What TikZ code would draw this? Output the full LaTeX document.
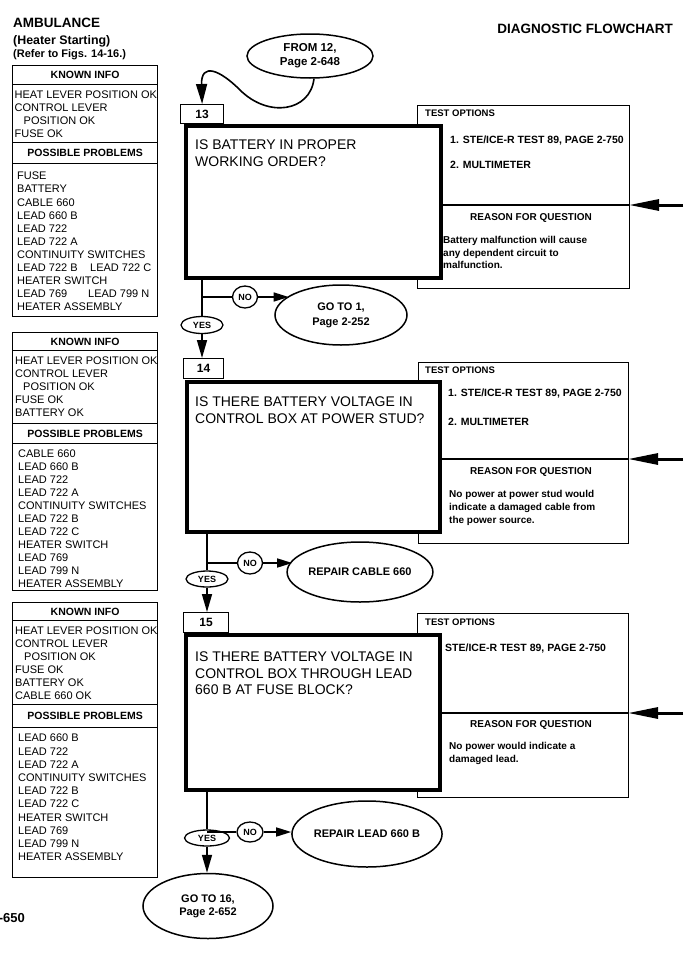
\documentclass[tikz,border=0pt]{standalone}
\usepackage{fontspec}
\setmainfont{Liberation Sans}
\usetikzlibrary{arrows.meta,shapes.geometric}
\newcommand\setfs[2]{\fontsize{#1pt}{#2pt}\selectfont}
\begin{document}
\begin{tikzpicture}[x=1pt,y=-1pt,
  lbox/.style={draw, line width=1.2pt, inner sep=0pt, anchor=north west},
  hdr/.style={draw, line width=1.2pt, inner sep=0pt, anchor=north west, minimum width=145pt, font=\bfseries\setfs{10.5}{12}},
  qbox/.style={draw, line width=4pt, fill=white, inner sep=0pt, anchor=north west},
  numbox/.style={draw, line width=1.2pt, fill=white, inner sep=0pt, anchor=north west, font=\bfseries\setfs{12}{14}},
  item/.style={inner sep=0pt, anchor=north west, align=left, font=\setfs{11}{13}},
  qtext/.style={inner sep=0pt, anchor=north west, align=left, font=\setfs{14}{17}},
  tohead/.style={inner sep=0pt, anchor=base west, font=\bfseries\setfs{9.5}{11}},
  toitem/.style={inner sep=0pt, anchor=base west, font=\bfseries\setfs{10.5}{12}},
  rhead/.style={inner sep=0pt, anchor=base, font=\bfseries\setfs{10}{12}},
  rtext/.style={inner sep=0pt, anchor=north west, align=left, font=\bfseries\setfs{10}{12.5}},
  oval/.style={ellipse, draw, line width=1.5pt, fill=white, inner sep=0pt, align=center, font=\bfseries\setfs{11}{14}},
  lbl/.style={ellipse, draw, line width=1.3pt, fill=white, inner sep=0pt, font=\bfseries\setfs{9}{10}},
  flow/.style={line width=1.6pt},
  downarrow/.style={flow, -{Triangle[length=18pt,width=10pt]}},
  noarrow/.style={flow, -{Triangle[length=15pt,width=9pt]}},
  bigarrow/.style={line width=3pt, -{Triangle[length=30pt,width=11pt]}},
  divider/.style={line width=2pt}
]
\useasboundingbox (0,0) rectangle (696,953);

% ---------- titles ----------
\node[inner sep=0pt, anchor=base west, font=\bfseries\setfs{13.5}{16}] (title) at (13,27.5) {AMBULANCE};
\node[inner sep=0pt, anchor=base west, font=\bfseries\setfs{12.4}{14}] (sub) at (13,44.5) {(Heater Starting)};
\node[inner sep=0pt, anchor=base west, font=\bfseries\setfs{11}{13}] (refer) at (13,57.5) {(Refer to Figs. 14-16.)};
\node[inner sep=0pt, anchor=base east, font=\bfseries\setfs{13.5}{16}] (diag) at (673,33) {DIAGNOSTIC FLOWCHART};
\node[inner sep=0pt, anchor=base east, font=\bfseries\setfs{13}{15}] (pg) at (25,922) {-650};

% ---------- left column, block 1 ----------
\node[lbox, minimum width=145pt, minimum height=77pt] (k1) at (12,65) {};
\node[hdr, minimum height=19pt] (kh1) at (12,65) {KNOWN INFO};
\node[item] (k1t) at (14.5,91) {HEAT LEVER POSITION OK\\CONTROL LEVER\\\hspace*{9pt}POSITION OK\\FUSE OK};
\node[lbox, minimum width=145pt, minimum height=174pt] (p1) at (12,142) {};
\node[hdr, minimum height=21pt] (ph1) at (12,142) {POSSIBLE PROBLEMS};
\node[item, font=\setfs{11}{13.1}] (p1t) at (17,172) {FUSE\\BATTERY\\CABLE 660\\LEAD 660 B\\LEAD 722\\LEAD 722 A\\CONTINUITY SWITCHES\\\makebox[73pt][l]{LEAD 722 B}LEAD 722 C\\HEATER SWITCH\\\makebox[71pt][l]{LEAD 769}LEAD 799 N\\HEATER ASSEMBLY};

% ---------- left column, block 2 ----------
\node[lbox, minimum width=145pt, minimum height=91pt] (k2) at (12,332) {};
\node[hdr, minimum height=18pt] (kh2) at (12,332) {KNOWN INFO};
\node[item] (k2t) at (15,357) {HEAT LEVER POSITION OK\\CONTROL LEVER\\\hspace*{8pt}POSITION OK\\FUSE OK\\BATTERY OK};
\node[lbox, minimum width=145pt, minimum height=167pt] (p2) at (12,423) {};
\node[hdr, minimum height=20pt] (ph2) at (12,423) {POSSIBLE PROBLEMS};
\node[item] (p2t) at (18,450) {CABLE 660\\LEAD 660 B\\LEAD 722\\LEAD 722 A\\CONTINUITY SWITCHES\\LEAD 722 B\\LEAD 722 C\\HEATER SWITCH\\LEAD 769\\LEAD 799 N\\HEATER ASSEMBLY};

% ---------- left column, block 3 ----------
\node[lbox, minimum width=145pt, minimum height=102pt] (k3) at (12,602) {};
\node[hdr, minimum height=18pt] (kh3) at (12,602) {KNOWN INFO};
\node[item] (k3t) at (15,627) {HEAT LEVER POSITION OK\\CONTROL LEVER\\\hspace*{9pt}POSITION OK\\FUSE OK\\BATTERY OK\\CABLE 660 OK};
\node[lbox, minimum width=145pt, minimum height=173pt] (p3) at (12,704) {};
\node[hdr, minimum height=23pt] (ph3) at (12,704) {POSSIBLE PROBLEMS};
\node[item, font=\setfs{11}{13.2}] (p3t) at (18,734) {LEAD 660 B\\LEAD 722\\LEAD 722 A\\CONTINUITY SWITCHES\\LEAD 722 B\\LEAD 722 C\\HEATER SWITCH\\LEAD 769\\LEAD 799 N\\HEATER ASSEMBLY};

% ---------- step 13 ----------
\node[lbox, minimum width=212pt, minimum height=183pt] (t13) at (417,105) {};
\node[qbox, minimum width=255pt, minimum height=152pt] (q13) at (184,124) {};
\node[numbox, minimum width=43pt, minimum height=19pt] (n13) at (180,104) {13};
\node[qtext] (qt13) at (195,140) {IS BATTERY IN PROPER\\WORKING ORDER?};
\node[tohead] (to13) at (425,116.5) {TEST OPTIONS};
\node[toitem] (o13a) at (450,143.8) {1. STE/ICE-R TEST 89, PAGE 2-750};
\node[toitem] (o13b) at (450,168.8) {2. MULTIMETER};
\node[rhead] (r13) at (531,220.6) {REASON FOR QUESTION};
\node[rtext] (rt13) at (443,236.4) {Battery malfunction will cause\\any dependent circuit to\\malfunction.};
\coordinate (d13) at (629,205);
\coordinate (a13) at (683,205);
\draw[divider] (q13.east |- d13) -- (d13);
\draw[bigarrow] (a13) -- (d13);

% ---------- step 14 ----------
\node[lbox, minimum width=210pt, minimum height=181pt] (t14) at (418,362) {};
\node[qbox, minimum width=253pt, minimum height=150pt] (q14) at (185,380) {};
\node[numbox, minimum width=40pt, minimum height=20pt] (n14) at (183,358) {14};
\node[qtext] (qt14) at (195,397) {IS THERE BATTERY VOLTAGE IN\\CONTROL BOX AT POWER STUD?};
\node[tohead] (to14) at (425,373.4) {TEST OPTIONS};
\node[toitem] (o14a) at (448,396.8) {1. STE/ICE-R TEST 89, PAGE 2-750};
\node[toitem] (o14b) at (448,425.8) {2. MULTIMETER};
\node[rhead] (r14) at (531,474.6) {REASON FOR QUESTION};
\node[rtext, font=\bfseries\setfs{10}{13}] (rt14) at (449,490.4) {No power at power stud would\\indicate a damaged cable from\\the power source.};
\coordinate (d14) at (628,459);
\coordinate (a14) at (683,459);
\draw[divider] (q14.east |- d14) -- (d14);
\draw[bigarrow] (a14) -- (d14);

% ---------- step 15 ----------
\node[lbox, minimum width=211pt, minimum height=184pt] (t15) at (417,613) {};
\node[qbox, minimum width=254pt, minimum height=155pt] (q15) at (184,633) {};
\node[numbox, minimum width=45pt, minimum height=20pt] (n15) at (183,612) {15};
\node[qtext, font=\setfs{14}{16.5}] (qt15) at (195,652) {IS THERE BATTERY VOLTAGE IN\\CONTROL BOX THROUGH LEAD\\660 B AT FUSE BLOCK?};
\node[tohead] (to15) at (425,625.4) {TEST OPTIONS};
\node[toitem] (o15a) at (445,651.8) {STE/ICE-R TEST 89, PAGE 2-750};
\node[rhead] (r15) at (531,727.6) {REASON FOR QUESTION};
\node[rtext] (rt15) at (449,742.4) {No power would indicate a\\damaged lead.};
\coordinate (d15) at (628,713);
\coordinate (a15) at (683,713);
\draw[divider] (q15.east |- d15) -- (d15);
\draw[bigarrow] (a15) -- (d15);

% ---------- entry ----------
\node[oval, minimum width=126pt, minimum height=44pt, font=\bfseries\setfs{11.5}{14}] (from12) at (310,56) {FROM 12,\\Page 2-648};
\draw[flow, -{Triangle[length=20pt,width=11pt]}] (from12.-80) .. controls (310,112) and (268,118) .. (240,90) .. controls (220,70) and (201,62) .. (n13.north);

% ---------- branch 13 ----------
\node[lbl, minimum width=42pt, minimum height=17pt] (yes13) at (202,325) {YES};
\node[lbl, minimum width=25pt, minimum height=22pt] (no13) at (245,297) {NO};
\node[oval, minimum width=132pt, minimum height=60pt, font=\bfseries\setfs{11}{15}] (go1) at (341,315) {GO TO 1,\\Page 2-252};
\draw[flow] (q13.south -| yes13) -- (yes13);
\draw[flow] (no13 -| yes13) -- (no13);
\draw[noarrow] (no13) -- (no13 -| go1.160);
\draw[downarrow] (yes13) -- (n14.north -| yes13);

% ---------- branch 14 ----------
\node[lbl, minimum width=42pt, minimum height=16pt] (yes14) at (207,579) {YES};
\node[lbl, minimum width=25pt, minimum height=22pt] (no14) at (250,563) {NO};
\node[oval, minimum width=135pt, minimum height=60pt] (rep660) at (360,572) {REPAIR CABLE 660};
\draw[flow] (q14.south -| yes14) -- (yes14);
\draw[flow] (no14 -| yes14) -- (no14);
\draw[noarrow] (no14) -- (no14 -| rep660.170);
\draw[downarrow] (yes14) -- (n15.north -| yes14);

% ---------- branch 15 ----------
\node[lbl, minimum width=45pt, minimum height=16pt] (yes15) at (207,838) {YES};
\node[lbl, minimum width=26pt, minimum height=20pt] (no15) at (250,832) {NO};
\node[oval, minimum width=150pt, minimum height=66pt] (rep660b) at (367,834) {REPAIR LEAD 660 B};
\node[oval, minimum width=130pt, minimum height=65pt, font=\bfseries\setfs{11}{13}] (go16) at (208,906) {GO TO 16,\\Page 2-652};
\draw[flow] (q15.south -| yes15) -- (yes15);
\draw[flow] (no15 -| yes15) -- (no15);
\draw[noarrow] (no15) -- (no15 -| rep660b.west);
\draw[downarrow] (yes15) -- (go16.north -| yes15);
\end{tikzpicture}
\end{document}
